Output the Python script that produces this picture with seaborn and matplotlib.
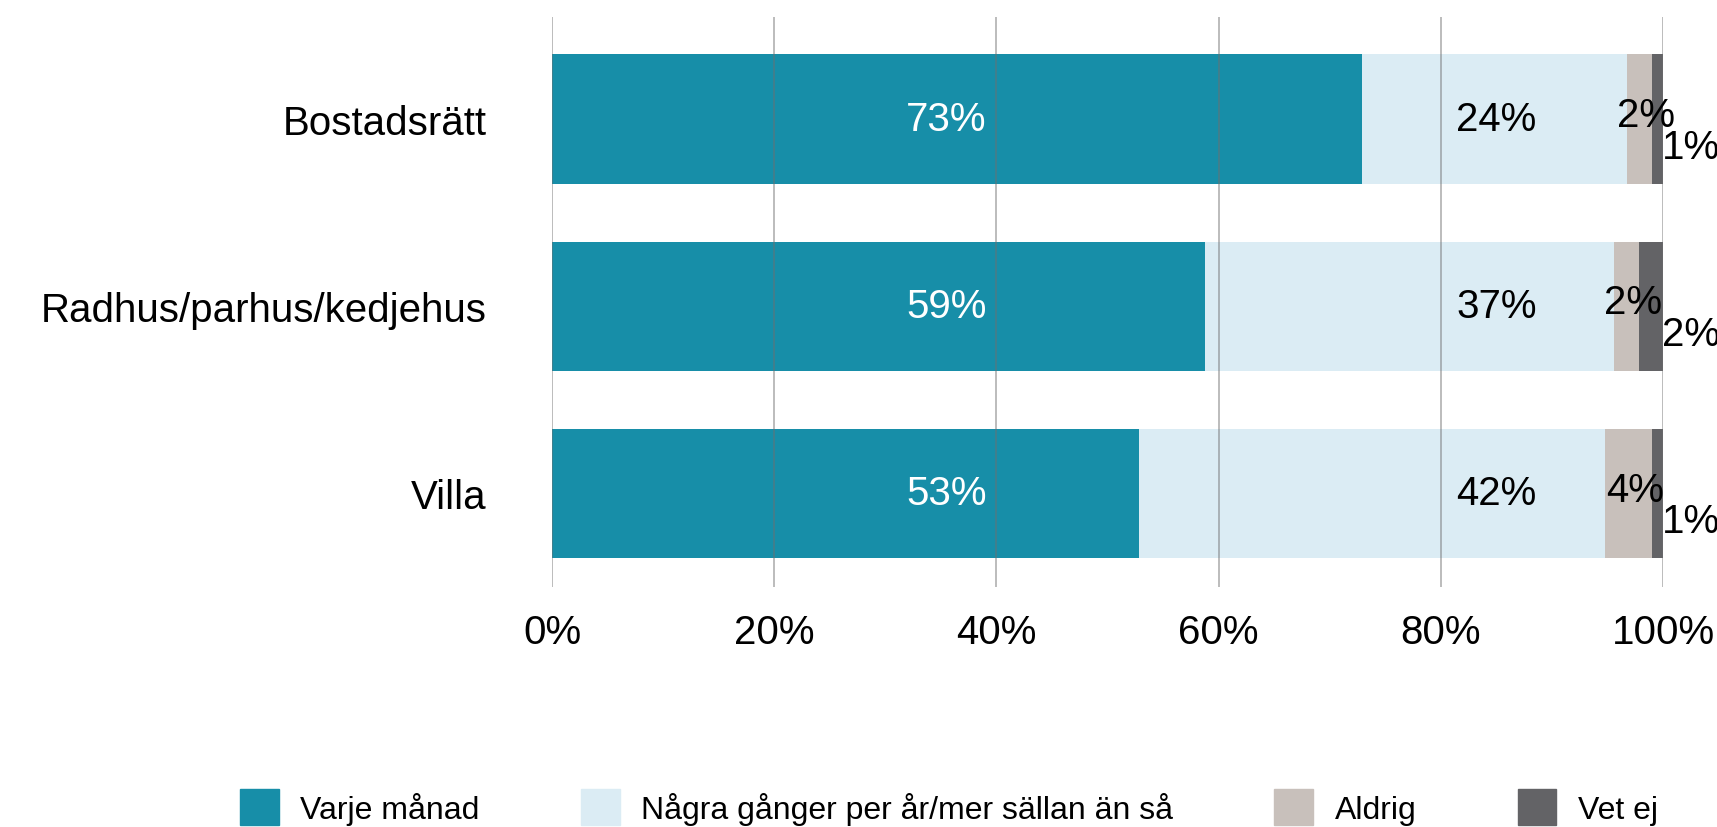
import seaborn as sns
import matplotlib.pyplot as plt
import numpy as np
import pandas as pd

# data (percent)
categories = ["Bostadsrätt", "Radhus/parhus/kedjehus", "Villa"]
series = ["Varje månad", "Några gånger per år/mer sällan än så", "Aldrig", "Vet ej"]
varje_manad = [72.9, 58.8, 52.8]
nagra_ganger = [23.9, 36.8, 42.0]
aldrig = [2.2, 2.2, 4.2]
vet_ej = [1.0, 2.2, 1.0]
labels = [["73%", "59%", "53%"],
          ["24%", "37%", "42%"],
          ["2%", "2%", "4%"],
          ["1%", "2%", "1%"]]
colors = ["#178ea8", "#dbecf4", "#c8c0bb", "#636366"]
text_colors = ["white", "black", "black", "black"]

sns.set_theme(style="white")
plt.rcParams['font.family'] = ['Liberation Sans', 'DejaVu Sans']

values = np.array([varje_manad, nagra_ganger, aldrig, vet_ej])
cum = values.cumsum(axis=0)

fig = plt.figure(figsize=(17.17, 8.28), dpi=100)
ax = fig.add_axes([552 / 1717, 1 - 588 / 828, (1663 - 552) / 1717, (588 - 18) / 828])

# draw stacked bars as overlapping cumulative bars, widest first
for i in range(len(series) - 1, -1, -1):
    df = pd.DataFrame({"kategori": categories, "värde": cum[i]})
    sns.barplot(data=df, x="värde", y="kategori", color=colors[i], width=0.69,
                saturation=1, linewidth=0, edgecolor="none", ax=ax, zorder=2)

# value labels
for j in range(len(categories)):
    # big segments: Excel-style fixed label columns
    ax.text(35.5, j, labels[0][j], ha="center", va="center", fontsize=29,
            color=text_colors[0], zorder=4)
    ax.text(85.0, j, labels[1][j], ha="center", va="center", fontsize=29,
            color=text_colors[1], zorder=4)
    # Aldrig at segment centre
    xc = cum[1][j] + values[2][j] / 2
    ax.text(xc + 0.6, j - 0.02, labels[2][j], ha="center", va="center", fontsize=29,
            color=text_colors[2], zorder=4)
    # Vet ej next to the bar end, a bit lower
    ax.text(cum[3][j] - 0.1, j + 0.15, labels[3][j], ha="left", va="center", fontsize=29,
            color=text_colors[3], zorder=4)

ax.set_xlim(0, 100)
ax.set_ylim(2.5, -0.545)
ax.set_xticks(np.arange(0, 101, 20))
ax.set_xticklabels([f"{t}%" for t in range(0, 101, 20)])
ax.set_xlabel("")
ax.set_ylabel("")
ax.tick_params(axis="x", labelsize=29, pad=19, length=0)
ax.tick_params(axis="y", labelsize=29, pad=47, length=0)
for t in ax.get_xticklabels() + ax.get_yticklabels():
    t.set_color("black")

ax.grid(axis="x", color="#6f6f6f", alpha=0.55, linewidth=1.2, zorder=3)
ax.set_axisbelow(False)
for s in ax.spines.values():
    s.set_visible(False)

handles = [plt.Rectangle((0, 0), 1, 1, color=c) for c in colors]
leg = fig.legend(handles, series, loc="center", bbox_to_anchor=(949 / 1717, 1 - 808 / 828),
                 ncol=4, frameon=False, fontsize=23, handlelength=1.22, handleheight=1.4,
                 handletextpad=0.66, columnspacing=3.17, borderpad=0, borderaxespad=0)
for t in leg.get_texts():
    t.set_color("black")

plt.savefig("out.png", dpi=100)
